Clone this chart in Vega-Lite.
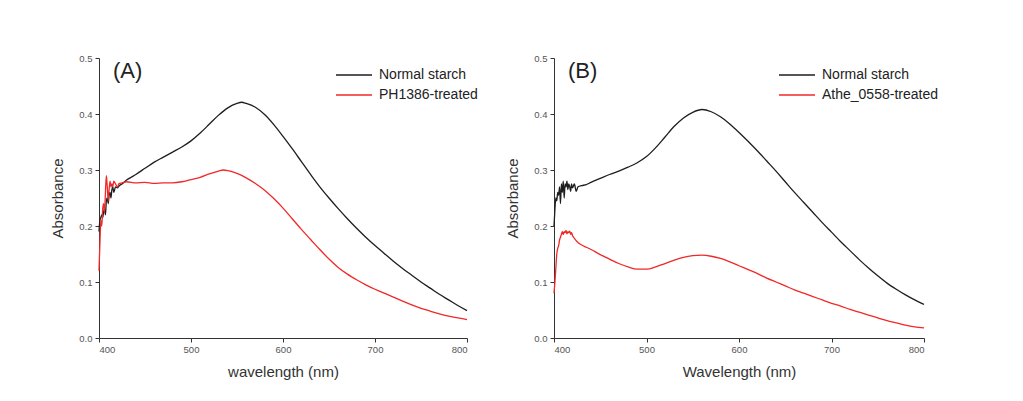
{
  "$schema": "https://vega.github.io/schema/vega-lite/v6.json",
  "background": "white",
  "padding": {"left": 50, "top": 53, "right": 5, "bottom": 5},
  "spacing": 27,
  "datasets": {
    "A": [
      {"wl":400,"abs":0.19,"s":"Normal starch"},{"wl":401,"abs":0.21,"s":"Normal starch"},{"wl":402,"abs":0.215,"s":"Normal starch"},{"wl":403,"abs":0.22,"s":"Normal starch"},{"wl":404,"abs":0.215,"s":"Normal starch"},{"wl":405,"abs":0.225,"s":"Normal starch"},{"wl":406,"abs":0.23,"s":"Normal starch"},{"wl":407,"abs":0.22,"s":"Normal starch"},{"wl":408,"abs":0.245,"s":"Normal starch"},{"wl":409,"abs":0.25,"s":"Normal starch"},{"wl":410,"abs":0.24,"s":"Normal starch"},{"wl":411,"abs":0.255,"s":"Normal starch"},{"wl":412,"abs":0.26,"s":"Normal starch"},{"wl":413,"abs":0.25,"s":"Normal starch"},{"wl":414,"abs":0.265,"s":"Normal starch"},{"wl":415,"abs":0.27,"s":"Normal starch"},{"wl":416,"abs":0.26,"s":"Normal starch"},{"wl":417,"abs":0.265,"s":"Normal starch"},{"wl":418,"abs":0.27,"s":"Normal starch"},{"wl":420,"abs":0.268,"s":"Normal starch"},{"wl":422,"abs":0.272,"s":"Normal starch"},{"wl":425,"abs":0.275,"s":"Normal starch"},{"wl":430,"abs":0.282,"s":"Normal starch"},{"wl":435,"abs":0.287,"s":"Normal starch"},{"wl":440,"abs":0.292,"s":"Normal starch"},{"wl":450,"abs":0.303,"s":"Normal starch"},{"wl":460,"abs":0.314,"s":"Normal starch"},{"wl":470,"abs":0.323,"s":"Normal starch"},{"wl":480,"abs":0.332,"s":"Normal starch"},{"wl":490,"abs":0.341,"s":"Normal starch"},{"wl":500,"abs":0.352,"s":"Normal starch"},{"wl":510,"abs":0.366,"s":"Normal starch"},{"wl":520,"abs":0.382,"s":"Normal starch"},{"wl":530,"abs":0.398,"s":"Normal starch"},{"wl":540,"abs":0.411,"s":"Normal starch"},{"wl":550,"abs":0.419,"s":"Normal starch"},{"wl":555,"abs":0.421,"s":"Normal starch"},{"wl":560,"abs":0.419,"s":"Normal starch"},{"wl":570,"abs":0.412,"s":"Normal starch"},{"wl":580,"abs":0.399,"s":"Normal starch"},{"wl":590,"abs":0.381,"s":"Normal starch"},{"wl":600,"abs":0.36,"s":"Normal starch"},{"wl":610,"abs":0.338,"s":"Normal starch"},{"wl":620,"abs":0.315,"s":"Normal starch"},{"wl":630,"abs":0.292,"s":"Normal starch"},{"wl":640,"abs":0.27,"s":"Normal starch"},{"wl":650,"abs":0.25,"s":"Normal starch"},{"wl":660,"abs":0.231,"s":"Normal starch"},{"wl":670,"abs":0.213,"s":"Normal starch"},{"wl":680,"abs":0.196,"s":"Normal starch"},{"wl":690,"abs":0.18,"s":"Normal starch"},{"wl":700,"abs":0.165,"s":"Normal starch"},{"wl":710,"abs":0.151,"s":"Normal starch"},{"wl":720,"abs":0.137,"s":"Normal starch"},{"wl":730,"abs":0.124,"s":"Normal starch"},{"wl":740,"abs":0.112,"s":"Normal starch"},{"wl":750,"abs":0.1,"s":"Normal starch"},{"wl":760,"abs":0.089,"s":"Normal starch"},{"wl":770,"abs":0.078,"s":"Normal starch"},{"wl":780,"abs":0.068,"s":"Normal starch"},{"wl":790,"abs":0.058,"s":"Normal starch"},{"wl":800,"abs":0.049,"s":"Normal starch"},
      {"wl":400,"abs":0.12,"s":"PH1386-treated"},{"wl":401,"abs":0.17,"s":"PH1386-treated"},{"wl":402,"abs":0.21,"s":"PH1386-treated"},{"wl":403,"abs":0.2,"s":"PH1386-treated"},{"wl":404,"abs":0.23,"s":"PH1386-treated"},{"wl":405,"abs":0.24,"s":"PH1386-treated"},{"wl":406,"abs":0.225,"s":"PH1386-treated"},{"wl":407,"abs":0.26,"s":"PH1386-treated"},{"wl":408,"abs":0.29,"s":"PH1386-treated"},{"wl":409,"abs":0.27,"s":"PH1386-treated"},{"wl":410,"abs":0.245,"s":"PH1386-treated"},{"wl":411,"abs":0.265,"s":"PH1386-treated"},{"wl":412,"abs":0.28,"s":"PH1386-treated"},{"wl":413,"abs":0.27,"s":"PH1386-treated"},{"wl":414,"abs":0.275,"s":"PH1386-treated"},{"wl":415,"abs":0.27,"s":"PH1386-treated"},{"wl":416,"abs":0.28,"s":"PH1386-treated"},{"wl":418,"abs":0.275,"s":"PH1386-treated"},{"wl":420,"abs":0.27,"s":"PH1386-treated"},{"wl":422,"abs":0.276,"s":"PH1386-treated"},{"wl":425,"abs":0.277,"s":"PH1386-treated"},{"wl":430,"abs":0.279,"s":"PH1386-treated"},{"wl":440,"abs":0.277,"s":"PH1386-treated"},{"wl":450,"abs":0.278,"s":"PH1386-treated"},{"wl":460,"abs":0.276,"s":"PH1386-treated"},{"wl":470,"abs":0.277,"s":"PH1386-treated"},{"wl":480,"abs":0.277,"s":"PH1386-treated"},{"wl":490,"abs":0.279,"s":"PH1386-treated"},{"wl":500,"abs":0.283,"s":"PH1386-treated"},{"wl":510,"abs":0.287,"s":"PH1386-treated"},{"wl":520,"abs":0.293,"s":"PH1386-treated"},{"wl":530,"abs":0.298,"s":"PH1386-treated"},{"wl":535,"abs":0.3,"s":"PH1386-treated"},{"wl":540,"abs":0.299,"s":"PH1386-treated"},{"wl":550,"abs":0.294,"s":"PH1386-treated"},{"wl":560,"abs":0.286,"s":"PH1386-treated"},{"wl":570,"abs":0.276,"s":"PH1386-treated"},{"wl":580,"abs":0.264,"s":"PH1386-treated"},{"wl":590,"abs":0.249,"s":"PH1386-treated"},{"wl":600,"abs":0.232,"s":"PH1386-treated"},{"wl":610,"abs":0.213,"s":"PH1386-treated"},{"wl":620,"abs":0.194,"s":"PH1386-treated"},{"wl":630,"abs":0.176,"s":"PH1386-treated"},{"wl":640,"abs":0.158,"s":"PH1386-treated"},{"wl":650,"abs":0.141,"s":"PH1386-treated"},{"wl":660,"abs":0.126,"s":"PH1386-treated"},{"wl":670,"abs":0.114,"s":"PH1386-treated"},{"wl":680,"abs":0.104,"s":"PH1386-treated"},{"wl":690,"abs":0.095,"s":"PH1386-treated"},{"wl":700,"abs":0.087,"s":"PH1386-treated"},{"wl":710,"abs":0.08,"s":"PH1386-treated"},{"wl":720,"abs":0.073,"s":"PH1386-treated"},{"wl":730,"abs":0.066,"s":"PH1386-treated"},{"wl":740,"abs":0.059,"s":"PH1386-treated"},{"wl":750,"abs":0.053,"s":"PH1386-treated"},{"wl":760,"abs":0.048,"s":"PH1386-treated"},{"wl":770,"abs":0.043,"s":"PH1386-treated"},{"wl":780,"abs":0.039,"s":"PH1386-treated"},{"wl":790,"abs":0.036,"s":"PH1386-treated"},{"wl":800,"abs":0.033,"s":"PH1386-treated"}
    ],
    "B": [
      {"wl":400,"abs":0.2,"s":"Normal starch"},{"wl":401,"abs":0.23,"s":"Normal starch"},{"wl":402,"abs":0.25,"s":"Normal starch"},{"wl":403,"abs":0.245,"s":"Normal starch"},{"wl":404,"abs":0.26,"s":"Normal starch"},{"wl":405,"abs":0.255,"s":"Normal starch"},{"wl":406,"abs":0.27,"s":"Normal starch"},{"wl":407,"abs":0.24,"s":"Normal starch"},{"wl":408,"abs":0.275,"s":"Normal starch"},{"wl":409,"abs":0.26,"s":"Normal starch"},{"wl":410,"abs":0.28,"s":"Normal starch"},{"wl":411,"abs":0.25,"s":"Normal starch"},{"wl":412,"abs":0.275,"s":"Normal starch"},{"wl":413,"abs":0.27,"s":"Normal starch"},{"wl":414,"abs":0.28,"s":"Normal starch"},{"wl":415,"abs":0.265,"s":"Normal starch"},{"wl":416,"abs":0.275,"s":"Normal starch"},{"wl":417,"abs":0.27,"s":"Normal starch"},{"wl":418,"abs":0.262,"s":"Normal starch"},{"wl":419,"abs":0.275,"s":"Normal starch"},{"wl":420,"abs":0.268,"s":"Normal starch"},{"wl":422,"abs":0.275,"s":"Normal starch"},{"wl":424,"abs":0.262,"s":"Normal starch"},{"wl":426,"abs":0.27,"s":"Normal starch"},{"wl":430,"abs":0.272,"s":"Normal starch"},{"wl":435,"abs":0.274,"s":"Normal starch"},{"wl":440,"abs":0.278,"s":"Normal starch"},{"wl":450,"abs":0.285,"s":"Normal starch"},{"wl":460,"abs":0.292,"s":"Normal starch"},{"wl":470,"abs":0.298,"s":"Normal starch"},{"wl":480,"abs":0.305,"s":"Normal starch"},{"wl":490,"abs":0.313,"s":"Normal starch"},{"wl":500,"abs":0.324,"s":"Normal starch"},{"wl":510,"abs":0.34,"s":"Normal starch"},{"wl":520,"abs":0.359,"s":"Normal starch"},{"wl":530,"abs":0.378,"s":"Normal starch"},{"wl":540,"abs":0.393,"s":"Normal starch"},{"wl":550,"abs":0.403,"s":"Normal starch"},{"wl":560,"abs":0.408,"s":"Normal starch"},{"wl":570,"abs":0.404,"s":"Normal starch"},{"wl":580,"abs":0.395,"s":"Normal starch"},{"wl":590,"abs":0.382,"s":"Normal starch"},{"wl":600,"abs":0.367,"s":"Normal starch"},{"wl":610,"abs":0.351,"s":"Normal starch"},{"wl":620,"abs":0.334,"s":"Normal starch"},{"wl":630,"abs":0.316,"s":"Normal starch"},{"wl":640,"abs":0.298,"s":"Normal starch"},{"wl":650,"abs":0.279,"s":"Normal starch"},{"wl":660,"abs":0.26,"s":"Normal starch"},{"wl":670,"abs":0.242,"s":"Normal starch"},{"wl":680,"abs":0.224,"s":"Normal starch"},{"wl":690,"abs":0.206,"s":"Normal starch"},{"wl":700,"abs":0.189,"s":"Normal starch"},{"wl":710,"abs":0.172,"s":"Normal starch"},{"wl":720,"abs":0.156,"s":"Normal starch"},{"wl":730,"abs":0.14,"s":"Normal starch"},{"wl":740,"abs":0.125,"s":"Normal starch"},{"wl":750,"abs":0.111,"s":"Normal starch"},{"wl":760,"abs":0.098,"s":"Normal starch"},{"wl":770,"abs":0.087,"s":"Normal starch"},{"wl":780,"abs":0.077,"s":"Normal starch"},{"wl":790,"abs":0.068,"s":"Normal starch"},{"wl":800,"abs":0.06,"s":"Normal starch"},
      {"wl":400,"abs":0.08,"s":"Athe_0558-treated"},{"wl":401,"abs":0.1,"s":"Athe_0558-treated"},{"wl":402,"abs":0.125,"s":"Athe_0558-treated"},{"wl":403,"abs":0.15,"s":"Athe_0558-treated"},{"wl":404,"abs":0.16,"s":"Athe_0558-treated"},{"wl":405,"abs":0.165,"s":"Athe_0558-treated"},{"wl":406,"abs":0.175,"s":"Athe_0558-treated"},{"wl":407,"abs":0.18,"s":"Athe_0558-treated"},{"wl":408,"abs":0.185,"s":"Athe_0558-treated"},{"wl":409,"abs":0.19,"s":"Athe_0558-treated"},{"wl":410,"abs":0.185,"s":"Athe_0558-treated"},{"wl":411,"abs":0.19,"s":"Athe_0558-treated"},{"wl":412,"abs":0.188,"s":"Athe_0558-treated"},{"wl":413,"abs":0.192,"s":"Athe_0558-treated"},{"wl":414,"abs":0.186,"s":"Athe_0558-treated"},{"wl":415,"abs":0.19,"s":"Athe_0558-treated"},{"wl":416,"abs":0.188,"s":"Athe_0558-treated"},{"wl":417,"abs":0.191,"s":"Athe_0558-treated"},{"wl":418,"abs":0.185,"s":"Athe_0558-treated"},{"wl":419,"abs":0.188,"s":"Athe_0558-treated"},{"wl":420,"abs":0.183,"s":"Athe_0558-treated"},{"wl":422,"abs":0.178,"s":"Athe_0558-treated"},{"wl":425,"abs":0.172,"s":"Athe_0558-treated"},{"wl":430,"abs":0.166,"s":"Athe_0558-treated"},{"wl":435,"abs":0.162,"s":"Athe_0558-treated"},{"wl":440,"abs":0.158,"s":"Athe_0558-treated"},{"wl":450,"abs":0.149,"s":"Athe_0558-treated"},{"wl":460,"abs":0.141,"s":"Athe_0558-treated"},{"wl":470,"abs":0.133,"s":"Athe_0558-treated"},{"wl":480,"abs":0.127,"s":"Athe_0558-treated"},{"wl":490,"abs":0.123,"s":"Athe_0558-treated"},{"wl":500,"abs":0.123,"s":"Athe_0558-treated"},{"wl":510,"abs":0.127,"s":"Athe_0558-treated"},{"wl":520,"abs":0.133,"s":"Athe_0558-treated"},{"wl":530,"abs":0.139,"s":"Athe_0558-treated"},{"wl":540,"abs":0.144,"s":"Athe_0558-treated"},{"wl":550,"abs":0.147,"s":"Athe_0558-treated"},{"wl":560,"abs":0.148,"s":"Athe_0558-treated"},{"wl":570,"abs":0.146,"s":"Athe_0558-treated"},{"wl":580,"abs":0.142,"s":"Athe_0558-treated"},{"wl":590,"abs":0.136,"s":"Athe_0558-treated"},{"wl":600,"abs":0.129,"s":"Athe_0558-treated"},{"wl":610,"abs":0.122,"s":"Athe_0558-treated"},{"wl":620,"abs":0.115,"s":"Athe_0558-treated"},{"wl":630,"abs":0.107,"s":"Athe_0558-treated"},{"wl":640,"abs":0.1,"s":"Athe_0558-treated"},{"wl":650,"abs":0.093,"s":"Athe_0558-treated"},{"wl":660,"abs":0.086,"s":"Athe_0558-treated"},{"wl":670,"abs":0.08,"s":"Athe_0558-treated"},{"wl":680,"abs":0.074,"s":"Athe_0558-treated"},{"wl":690,"abs":0.068,"s":"Athe_0558-treated"},{"wl":700,"abs":0.062,"s":"Athe_0558-treated"},{"wl":710,"abs":0.057,"s":"Athe_0558-treated"},{"wl":720,"abs":0.051,"s":"Athe_0558-treated"},{"wl":730,"abs":0.046,"s":"Athe_0558-treated"},{"wl":740,"abs":0.041,"s":"Athe_0558-treated"},{"wl":750,"abs":0.036,"s":"Athe_0558-treated"},{"wl":760,"abs":0.031,"s":"Athe_0558-treated"},{"wl":770,"abs":0.027,"s":"Athe_0558-treated"},{"wl":780,"abs":0.023,"s":"Athe_0558-treated"},{"wl":790,"abs":0.02,"s":"Athe_0558-treated"},{"wl":800,"abs":0.018,"s":"Athe_0558-treated"}
    ]
  },
  "resolve": {"scale": {"color": "independent"}, "legend": {"color": "independent"}},
  "hconcat": [
    {
      "width": 368, "height": 280,
      "title": {"text": "(A)", "anchor": "start", "frame": "group", "dx": 14, "offset": -30},
      "data": {"name": "A"},
      "mark": {"type": "line", "strokeWidth": 1.3, "interpolate": "monotone"},
      "encoding": {
        "x": {"field": "wl", "type": "quantitative", "scale": {"domain": [400, 800], "nice": false}, "axis": {"title": "wavelength (nm)", "values": [400, 500, 600, 700, 800], "format": "d"}},
        "y": {"field": "abs", "type": "quantitative", "scale": {"domain": [0, 0.5], "nice": false}, "axis": {"title": "Absorbance", "values": [0, 0.1, 0.2, 0.3, 0.4, 0.5], "format": ".1f"}},
        "color": {"field": "s", "type": "nominal", "scale": {"domain": ["Normal starch", "PH1386-treated"], "range": ["#1e1e1e", "#f02828"]}, "legend": {"title": null, "orient": "none", "legendX": 248, "legendY": 10}}
      }
    },
    {
      "width": 370, "height": 280,
      "title": {"text": "(B)", "anchor": "start", "frame": "group", "dx": 14, "offset": -30},
      "data": {"name": "B"},
      "mark": {"type": "line", "strokeWidth": 1.3, "interpolate": "monotone"},
      "encoding": {
        "x": {"field": "wl", "type": "quantitative", "scale": {"domain": [400, 800], "nice": false}, "axis": {"title": "Wavelength (nm)", "values": [400, 500, 600, 700, 800], "format": "d"}},
        "y": {"field": "abs", "type": "quantitative", "scale": {"domain": [0, 0.5], "nice": false}, "axis": {"title": "Absorbance", "values": [0, 0.1, 0.2, 0.3, 0.4, 0.5], "format": ".1f"}},
        "color": {"field": "s", "type": "nominal", "scale": {"domain": ["Normal starch", "Athe_0558-treated"], "range": ["#1e1e1e", "#f02828"]}, "legend": {"title": null, "orient": "none", "legendX": 236, "legendY": 10}}
      }
    }
  ],
  "config": {
    "font": "Liberation Sans",
    "view": {"stroke": null},
    "title": {"fontSize": 22, "fontWeight": "normal", "color": "#222", "font": "Liberation Sans"},
    "axis": {
      "grid": false,
      "labelFont": "Liberation Sans", "labelFontSize": 9.5, "labelColor": "#555",
      "titleFont": "Liberation Sans", "titleFontSize": 15, "titleFontWeight": "normal", "titleColor": "#333",
      "domainColor": "#333", "tickColor": "#333", "tickSize": 4, "labelPadding": 2
    },
    "axisX": {"titlePadding": 11},
    "axisY": {"titlePadding": 13, "labelPadding": 3},
    "legend": {
      "symbolType": "M-4,0H4", "symbolSize": 81, "symbolStrokeWidth": 1.5,
      "labelFont": "Liberation Sans", "labelFontSize": 14, "labelColor": "#222",
      "labelOffset": 18, "rowPadding": 6, "padding": 0
    }
  }
}
